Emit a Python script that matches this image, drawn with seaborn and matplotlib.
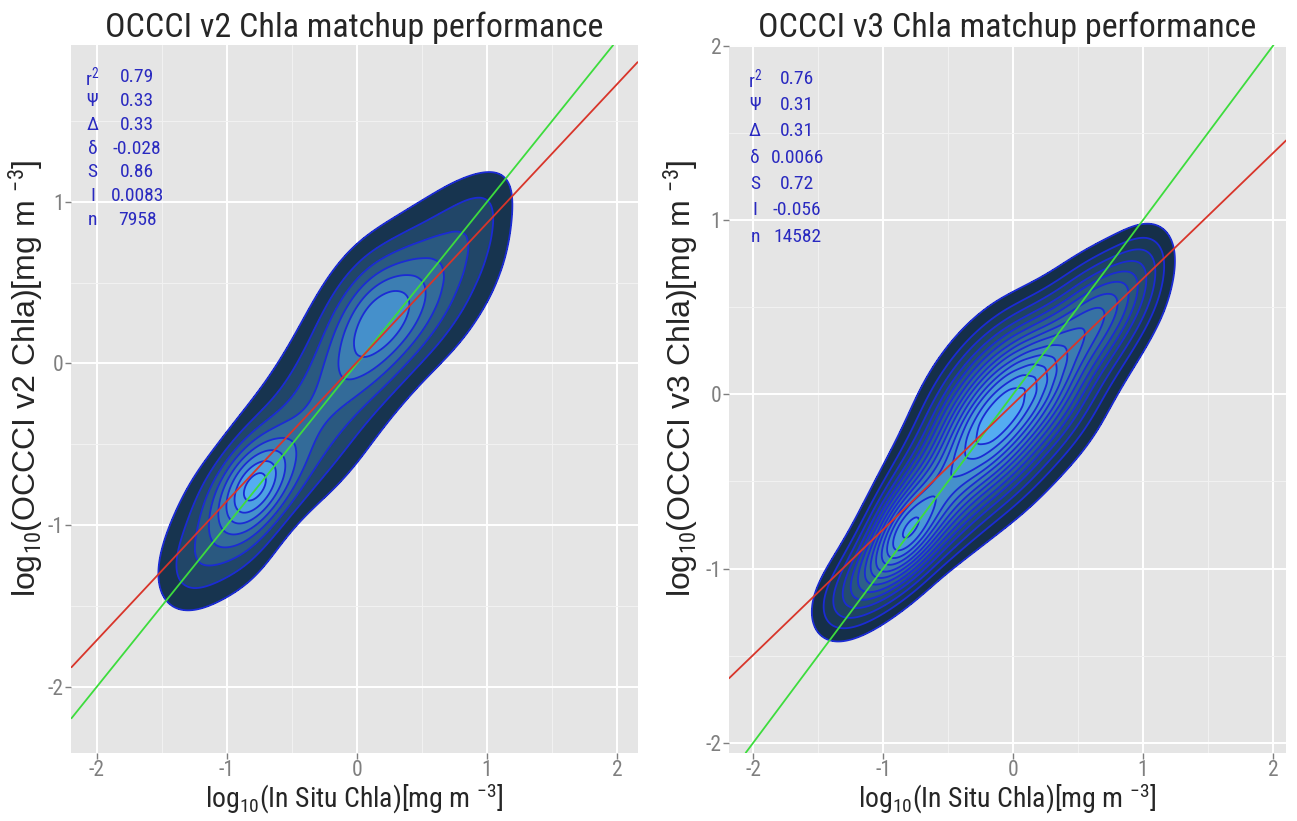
import numpy as np
import pandas as pd
import seaborn as sns
import matplotlib
matplotlib.use("Agg")
import matplotlib.pyplot as plt
from matplotlib.colors import LinearSegmentedColormap
from seaborn._statistics import KDE

# ridge of the matchup cloud:
# position along the 1:1 line, offset from it (sat - insitu), weight, spread across
v2_along = [-1.42, -1.32, -1.20, -1.08, -0.97, -0.87, -0.77, -0.67, -0.56, -0.44, -0.32, -0.20,
            -0.08, 0.03, 0.14, 0.25, 0.36, 0.48, 0.60, 0.72, 0.84, 0.95, 1.05, 1.13]
v2_offset = [0.0, 0.0, 0.0, -0.02, 0.0, 0.02, 0.03, 0.02, 0.0, -0.02, -0.01, 0.01,
             0.04, 0.06, 0.08, 0.08, 0.05, 0.0, -0.03, -0.05, -0.05, -0.03, 0.0, 0.0]
v2_weight = [1.3, 3.6, 5.1, 6.1, 7.8, 9.8, 12.0, 10.1, 8.3, 7.9, 7.9, 8.3,
             8.8, 10.2, 12.2, 12.8, 12.6, 10.2, 8.1, 6.5, 5.1, 3.6, 1.8, 0.6]
v2_spread = [1.1, 1.3, 1.5, 1.6, 1.5, 1.3, 1.2, 1.35, 1.6, 1.75, 1.8, 1.8,
             1.75, 1.7, 1.7, 1.7, 1.8, 1.85, 1.85, 1.8, 1.7, 1.45, 1.1, 0.8]

v3_along = [-1.38, -1.30, -1.20, -1.10, -1.00, -0.90, -0.80, -0.70, -0.60, -0.50, -0.40, -0.30, -0.20,
            -0.10, 0.00, 0.10, 0.20, 0.30, 0.40, 0.50, 0.60, 0.70, 0.80, 0.90, 0.98]
v3_offset = [0.14, 0.12, 0.08, 0.05, 0.03, 0.02, 0.03, 0.02, 0.01, 0.0, 0.0, 0.0, -0.01,
             -0.02, -0.04, -0.07, -0.10, -0.13, -0.16, -0.19, -0.21, -0.24, -0.27, -0.26, -0.24]
v3_weight = [0.7, 1.9, 3.2, 4.5, 6.3, 8.9, 11.0, 10.6, 10.4, 11.0, 12.6, 15.2, 16.7,
             17.2, 16.9, 15.7, 13.4, 10.7, 9.0, 8.1, 7.3, 5.6, 4.1, 2.3, 1.1]
v3_spread = [0.9, 0.95, 1.0, 1.0, 1.02, 1.05, 1.1, 1.25, 1.38, 1.48, 1.58, 1.65, 1.7,
             1.72, 1.74, 1.74, 1.72, 1.62, 1.5, 1.4, 1.33, 1.25, 1.17, 1.05, 0.9]

# cross-section of the cloud across the ridge
across_off = [-0.54, -0.48, -0.42, -0.36, -0.30, -0.24, -0.18, -0.12, -0.06, 0.0,
              0.06, 0.12, 0.18, 0.24, 0.30, 0.36, 0.42, 0.48, 0.54]
across_w = [0.026, 0.056, 0.11, 0.198, 0.325, 0.487, 0.667, 0.835, 0.956, 1.0,
            0.956, 0.835, 0.667, 0.487, 0.325, 0.198, 0.11, 0.056, 0.026]

# contour breaks as a share of the peak density (evenly spaced, as in the figure)
v2_breaks = [0.12, 0.24, 0.36, 0.48, 0.60, 0.72, 0.84, 0.95]
v3_breaks = [0.07, 0.135, 0.20, 0.27, 0.335, 0.40, 0.47, 0.535, 0.60, 0.67, 0.735, 0.80, 0.87, 0.935]

stat_names = ["r$^2$", "Ψ", "Δ", "δ", "S", "I", "n"]
v2_stats = ["0.79", "0.33", "0.33", "-0.028", "0.86", "0.0083", "7958"]
v3_stats = ["0.76", "0.31", "0.31", "0.0066", "0.72", "-0.056", "14582"]
v2_slope, v2_icpt = 0.86, 0.0083
v3_slope, v3_icpt = 0.72, -0.056

major = [-2, -1, 0, 1, 2]
minor = [-1.5, -0.5, 0.5, 1.5]
BW = 0.2
GRID = 300


def matchups(along, offset, weight, spread):
    rows = []
    for a, c, w, s in zip(along, offset, weight, spread):
        for o, q in zip(across_off, across_w):
            d = c + s * o
            rows.append((a - d / 2, a + d / 2, w * q))
    return pd.DataFrame(rows, columns=["insitu", "sat", "w"])


def iso_props(df, clip, breaks):
    # seaborn wants iso-proportions; turn density breaks into them
    est = KDE(bw_method=BW, gridsize=GRID, clip=clip)
    dens, _ = est(df["insitu"].to_numpy(), df["sat"].to_numpy(), weights=df["w"].to_numpy())
    vals = np.sort(dens.ravel())[::-1]
    total = vals.sum()
    props = [1 - vals[vals >= b * vals[0]].sum() / total for b in breaks]
    return props + [1.0]


sns.set_theme(style="darkgrid", rc={
    "axes.facecolor": "#E5E5E5",
    "figure.facecolor": "white",
    "axes.unicode_minus": False,
})
plt.rcParams["font.family"] = ["Roboto Condensed", "DejaVu Sans"]
plt.rcParams["mathtext.fontset"] = "custom"
plt.rcParams["mathtext.rm"] = "Roboto Condensed"
plt.rcParams["mathtext.it"] = "Roboto Condensed"

gg = LinearSegmentedColormap.from_list("gg", ["#132B43", "#56B1F7"])

fig = plt.figure(figsize=(12.97, 8.21), dpi=100)
ax1 = fig.add_axes([0.0551, 0.083, 0.4365, 0.8621])
ax2 = fig.add_axes([0.5621, 0.083, 0.4295, 0.8621])


def panel(ax, df, slope, icpt, stats, version, xlim, ylim, breaks, tx, ty, step, ylab_x):
    levels = iso_props(df, (xlim, ylim), breaks)
    kw = dict(data=df, x="insitu", y="sat", weights="w", bw_method=BW,
              gridsize=GRID, levels=levels, clip=(xlim, ylim), ax=ax)
    sns.kdeplot(fill=True, cmap=gg, **kw)
    sns.kdeplot(color="#1b2bd4", linewidths=1.3, **kw)
    ax.axline((0, 0), slope=1, color="#3ddc3d", lw=1.3)
    ax.axline((0, icpt), slope=slope, color="#d8352a", lw=1.3)
    for i, (name, val) in enumerate(zip(stat_names, stats)):
        y = ty - i * step
        ax.text(tx[0], y, name, ha="center", va="center", color="#2a2ac0", fontsize=14)
        ax.text(tx[1], y, val, ha="center", va="center", color="#2a2ac0", fontsize=14)
    ax.set_xlim(xlim)
    ax.set_ylim(ylim)
    ax.set_xticks(major)
    ax.set_yticks([t for t in major if ylim[0] <= t <= ylim[1] + 0.01])
    ax.set_xticks(minor, minor=True)
    ax.set_yticks(minor, minor=True)
    ax.grid(which="major", color="white", lw=1.4)
    ax.grid(which="minor", color="#F2F2F2", lw=0.7)
    ax.tick_params(which="major", direction="out", length=4, width=1, color="#7F7F7F",
                   labelcolor="#7F7F7F", labelsize=15.5, left=True, bottom=True, pad=1.5)
    ax.tick_params(which="minor", length=0)
    for sp in ax.spines.values():
        sp.set_visible(False)
    ax.set_title(f"OCCCI {version} Chla matchup performance", fontsize=24.5, pad=6)
    ax.set_xlabel(r"log$_{10}$(In Situ Chla)[mg m $^{-3}$]", fontsize=20, labelpad=0)
    ax.set_ylabel(rf"log$_{{10}}$(OCCCI {version} Chla)[mg m $^{{-3}}$]", fontsize=23,
                  family=["Liberation Sans", "DejaVu Sans"])
    ax.yaxis.set_label_coords(ylab_x, 0.53)


panel(ax1, matchups(v2_along, v2_offset, v2_weight, v2_spread), v2_slope, v2_icpt, v2_stats, "v2",
      (-2.196, 2.158), (-2.41, 1.97), v2_breaks, (-2.035, -1.69), 1.77, 0.147, -0.045)
panel(ax2, matchups(v3_along, v3_offset, v3_weight, v3_spread), v3_slope, v3_icpt, v3_stats, "v3",
      (-2.185, 2.10), (-2.057, 2.003), v3_breaks, (-1.985, -1.66), 1.81, 0.151, -0.05)

fig.savefig("out.png", dpi=100)
